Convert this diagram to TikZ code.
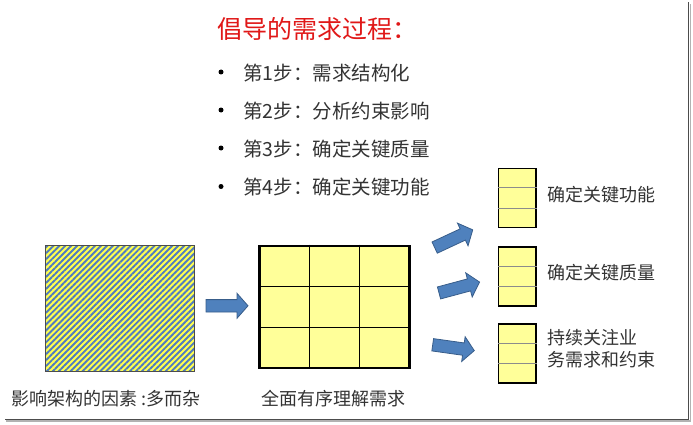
\documentclass[tikz,border=0pt]{standalone}
\usepackage{fontspec}
\setmainfont{Noto Sans CJK SC}
\usetikzlibrary{patterns.meta,calc}
\definecolor{txt}{HTML}{333333}
\definecolor{titlered}{HTML}{E01818}
\definecolor{arrowblue}{HTML}{4F81BD}
\definecolor{arrowedge}{HTML}{385D8A}
\definecolor{cellyellow}{HTML}{FFFF99}
\definecolor{hatchyellow}{HTML}{FFFF50}
\definecolor{hatchblue}{HTML}{4F7BC0}
\begin{document}
\begin{tikzpicture}[x=1pt,y=1pt,
  blockarrow/.pic={
    \draw[draw=arrowedge, fill=arrowblue, line width=0.8pt, line join=miter]
      (-21,-6.2) -- (10,-6.2) -- (10,-12.5) -- (21,0) -- (10,12.5) -- (10,6.2) -- (-21,6.2) -- cycle;
  },
  bullettext/.style={anchor=west, inner sep=0pt, text=txt, font=\fontsize{19.5}{22}\selectfont},
  labeltext/.style={anchor=west, inner sep=0pt, text=txt, font=\fontsize{18}{22}\selectfont, align=left},
  bulletdot/.style={circle, fill=black, inner sep=0pt, minimum size=5pt},
  colbox/.style={draw=black, line width=1.8pt, fill=cellyellow, minimum width=37.5pt,
    minimum height=59pt, inner sep=0pt},
  divline/.style={draw=black!45, line width=0.9pt},
  gridline/.style={draw=black, line width=1pt}
]
\useasboundingbox (0,0) rectangle (693,424);

% screenshot shadow frame
\draw[black!30, line width=1.6pt] (6,3.0) -- (690.6,3.0) -- (690.6,420);
\draw[black!70, line width=1.2pt] (5,4.6) -- (688.6,4.6) -- (688.6,421.5);

% title
\node[anchor=west, inner sep=0pt, text=titlered, font=\fontsize{25}{28}\selectfont] (title) at (217,395) {倡导的需求过程：};

% bullets
\node[bulletdot] (d1) at (221,352) {};
\node[bulletdot] (d2) at (221,314) {};
\node[bulletdot] (d3) at (221,276) {};
\node[bulletdot] (d4) at (221,237.5) {};
\node[bullettext] (b1) at (243,351) {第1步：需求结构化};
\node[bullettext] (b2) at (243,313) {第2步：分析约束影响};
\node[bullettext] (b3) at (243,275) {第3步：确定关键质量};
\node[bullettext] (b4) at (243,237) {第4步：确定关键功能};

% hatched square
\node[draw=black!70, line width=0.8pt, minimum width=149pt, minimum height=126pt, inner sep=0pt,
  preaction={fill=hatchyellow},
  pattern={Lines[angle=45,distance=4.2pt,line width=1.9pt]}, pattern color=hatchblue]
  (hatch) at (120,115.3) {};

% 3x3 grid
\node[draw=black, line width=2.2pt, fill=cellyellow, minimum width=150pt, minimum height=122.6pt, inner sep=0pt]
  (grid) at (334.5,117) {};
\draw[gridline] ($(grid.north west)!1/3!(grid.north east)$) -- ($(grid.south west)!1/3!(grid.south east)$);
\draw[gridline] ($(grid.north west)!2/3!(grid.north east)$) -- ($(grid.south west)!2/3!(grid.south east)$);
\draw[gridline] ($(grid.north west)!1/3!(grid.south west)$) -- ($(grid.north east)!1/3!(grid.south east)$);
\draw[gridline] ($(grid.north west)!2/3!(grid.south west)$) -- ($(grid.north east)!2/3!(grid.south east)$);

% block arrows
\pic at (227,118.2) {blockarrow};
\pic[rotate=25] at (453.7,185.3) {blockarrow};
\pic[rotate=15] at (459.3,136.5) {blockarrow};
\pic[rotate=-8] at (453.5,76.3) {blockarrow};

% right column boxes
\foreach \nm/\yy in {c1/226.1, c2/147.8, c3/70.7}{
  \node[colbox] (\nm) at (517.2,\yy) {};
  \draw[divline] ($(\nm.north west)!1/3!(\nm.south west)$) -- ($(\nm.north east)!1/3!(\nm.south east)$);
  \draw[divline] ($(\nm.north west)!2/3!(\nm.south west)$) -- ($(\nm.north east)!2/3!(\nm.south east)$);
}

% right labels
\node[labeltext] (l1) at (547,229) {确定关键功能};
\node[labeltext] (l2) at (547,151.3) {确定关键质量};
\node[labeltext] (l3) at (547,75) {持续关注业\\务需求和约束};

% bottom labels
\node[labeltext] (bl1) at (11,25) {影响架构的因素 :多而杂};
\node[labeltext] (bl2) at (261,25) {全面有序理解需求};
\end{tikzpicture}
\end{document}
